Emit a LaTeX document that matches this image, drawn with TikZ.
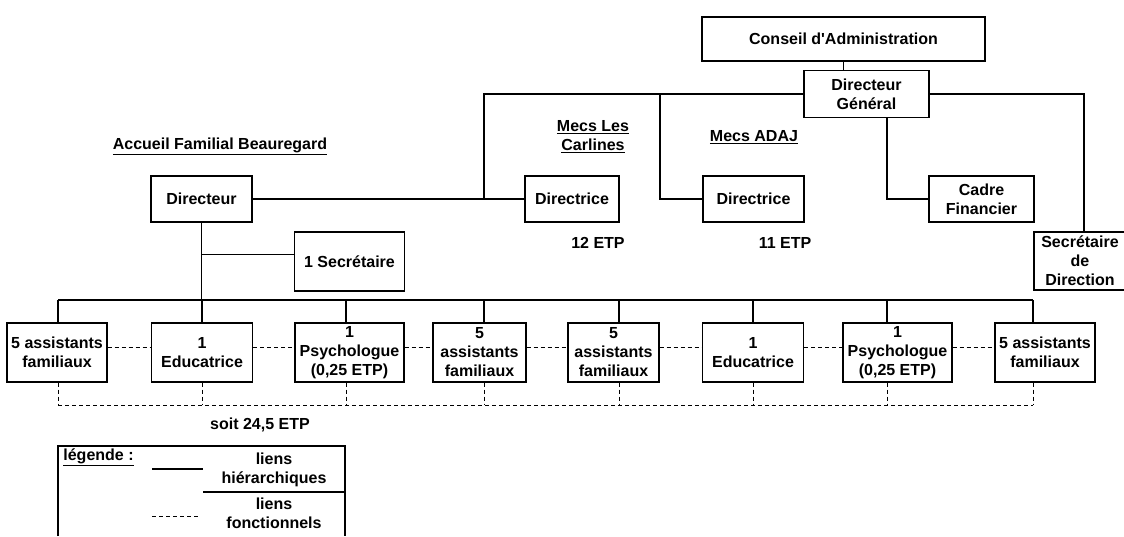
\documentclass[tikz,border=0pt]{standalone}
\usepackage{fontspec}
\setmainfont{Liberation Sans}
\usepackage{tikz}
\usetikzlibrary{calc,positioning}
\tikzset{
  box/.style={draw, line width=1.1pt, align=center, inner sep=0pt,
  font=\bfseries\fontsize{16}{19}\selectfont},
  lbl/.style={align=center, inner sep=0pt,
  font=\bfseries\fontsize{16}{19}\selectfont},
  hier/.style={line width=1.1pt},
  fonc/.style={line width=1pt, dash pattern=on 4pt off 3pt}
}

\begin{document}
\begin{tikzpicture}[x=1pt,y=-1pt]
\useasboundingbox (0,0) rectangle (1124,536);

% direction generale
\node[box, minimum width=283pt, minimum height=44pt] (ca) at (843.5,39) {Conseil d\textquotesingle Administration};
\node[box, minimum width=125pt, minimum height=47pt] (dg) at (866.5,94) {Directeur\\G\'en\'eral};
\node[box, minimum width=105pt, minimum height=46pt] (cadre) at (981.5,199) {Cadre\\Financier};
\node[box, minimum width=92pt, minimum height=58pt] (secDir) at (1080,261) {Secr\'etaire\\de\\Direction};

% etablissements
\node[box, minimum width=101pt, minimum height=46pt] (dirAFB) at (201.5,199) {Directeur};
\node[box, minimum width=94pt, minimum height=46pt] (dirCar) at (572,199) {Directrice};
\node[box, minimum width=101pt, minimum height=46pt] (dirAdaj) at (753.5,199) {Directrice};
\node[box, minimum width=110pt, minimum height=59pt] (sec1) at (349.5,261.5) {1 Secr\'etaire};

\node[lbl] (tAFB) at (220,146) {\underline{Accueil Familial Beauregard}};
\node[lbl] (tCar) at (593,137) {\underline{Mecs Les}\\\underline{Carlines}};
\node[lbl] (tAdaj) at (754,137) {\underline{Mecs ADAJ}};
\node[lbl] (etpCar) at (598,243) {12 ETP};
\node[lbl] (etpAdaj) at (785,243) {11 ETP};

% equipe accueil familial
\node[box, minimum width=100pt, minimum height=59pt] (af1) at (57,352.5) {5 assistants\\familiaux};
\node[box, minimum width=101pt, minimum height=59pt] (af2) at (202,352.5) {1\\Educatrice};
\node[box, minimum width=109pt, minimum height=59pt] (af3) at (349.5,352.5) {1\\Psychologue\\(0,25 ETP)};
\node[box, minimum width=93pt, minimum height=59pt] (af4) at (479.5,352.5) {5\\assistants\\familiaux};
\node[box, minimum width=91pt, minimum height=59pt] (af5) at (613.5,352.5) {5\\assistants\\familiaux};
\node[box, minimum width=101pt, minimum height=59pt] (af6) at (753,352.5) {1\\Educatrice};
\node[box, minimum width=109pt, minimum height=59pt] (af7) at (897.5,352.5) {1\\Psychologue\\(0,25 ETP)};
\node[box, minimum width=100pt, minimum height=59pt] (af8) at (1045,352.5) {5 assistants\\familiaux};
\node[lbl] (etpAFB) at (260,425) {soit 24,5 ETP};

\coordinate (bus) at (0,300);
\coordinate (fbus) at (0,405);
\coordinate (jCar) at (484,199);
\coordinate (jAdaj) at (660,94);

% liens hierarchiques
\draw[hier] (ca.south) -- (ca.south |- dg.north);
\draw[hier] (dg.west) -| (jCar);
\draw[hier] (dirAFB) -- (dirCar);
\draw[hier] (dirAdaj.west) -| (jAdaj);
\draw[hier] (cadre.west) -| ([xshift=20.5pt]dg.south);
\draw[hier] (dg.east) -| ([xshift=4pt]secDir.north);
\draw[hier] (dirAFB.south) -- (dirAFB.south |- bus);
\draw[hier] ([yshift=7pt]sec1.west) -- ([yshift=7pt]sec1.west -| dirAFB.south);

\foreach \n/\dx in {af1/1, af2/0, af3/-3.5, af4/4.5, af5/5.5, af6/0, af7/-10.5, af8/-12} {
  \coordinate (t\n) at ([xshift=\dx pt]\n.north);
  \coordinate (b\n) at ([xshift=\dx pt]\n.south);
  \draw[hier] (t\n) -- (t\n |- bus);
  \draw[fonc] (b\n) -- (b\n |- fbus);
}
\draw[hier] (taf1 |- bus) -- (taf8 |- bus);

% liens fonctionnels
\foreach \a/\b in {af1/af2, af2/af3, af3/af4, af4/af5, af5/af6, af6/af7, af7/af8}
  \draw[fonc] ([yshift=5pt]\a.east) -- ([yshift=5pt]\b.west);
\draw[fonc] (baf1 |- fbus) -- (baf8 |- fbus);

% legende
\draw[line width=1.1pt] (58,536) -- (58,446) -- (345,446) -- (345,536);
\node[lbl] (legTitle) at (98.5,457) {\underline{l\'egende :}};
\node[lbl] (legHier) at (274,469.5) {liens\\hi\'erarchiques};
\node[lbl] (legFonc) at (274,513.5) {liens\\fonctionnels};
\draw[hier] (152,469) -- (203,469);
\draw[hier] (203,492) -- (345,492);
\draw[fonc] (152,516) -- (200,516);
\end{tikzpicture}
\end{document}
